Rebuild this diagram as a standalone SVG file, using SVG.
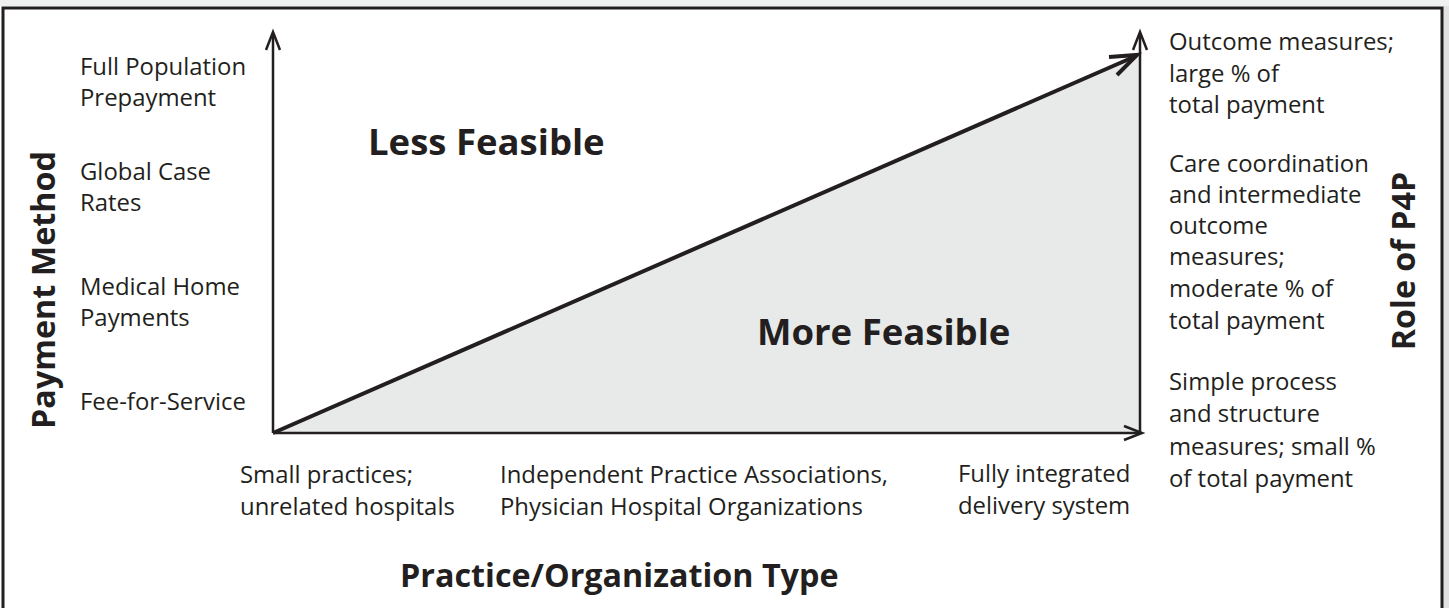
<svg xmlns="http://www.w3.org/2000/svg" width="1449" height="608" viewBox="0 0 1449 608">
<defs>
<style>
.t{font-family:"Open Sans","Noto Sans",sans-serif;font-size:23.9px;fill:#231f20}
.b{font-family:"Open Sans","Noto Sans",sans-serif;font-size:32.3px;font-weight:bold;fill:#231f20}
.f{font-family:"Open Sans","Noto Sans",sans-serif;font-size:36.5px;font-weight:bold;fill:#231f20}
.ax{stroke:#231f20;stroke-width:2.5;fill:none}
.ah{stroke:#231f20;stroke-width:2.5;fill:none;stroke-linecap:butt}
</style>
</defs>
<rect x="1443" y="0" width="6" height="608" fill="#e2e2e2"/>
<rect x="0" y="0" width="1449" height="6" fill="#f0f0f0"/>
<rect id="frame" x="3" y="8" width="1439" height="640" fill="#ffffff" stroke="#231f20" stroke-width="3"/>
<polygon id="feasible-region" points="273,433 1140,55 1140,433" fill="#e8e9e9"/>
<g id="connectors">
<path class="ax" d="M273,433 V34"/>
<path class="ah" d="M266,50 L273,32 L280,50"/>
<path class="ax" d="M273,433 H1140"/>
<path class="ah" d="M1124,426 L1142,433 L1124,440"/>
<path class="ax" d="M1140,433 V34"/>
<path class="ah" d="M1133,50 L1140,32 L1147,50"/>
<path d="M273,433 L1136,56" stroke="#231f20" stroke-width="4" fill="none"/>
<path d="M1109,57 L1137,55 L1117,75" stroke="#231f20" stroke-width="4" fill="none"/>
</g>
<g id="y-axis-labels">
<text class="t" x="80" y="75">Full Population</text>
<text class="t" x="80" y="106">Prepayment</text>
<text class="t" x="80" y="180">Global Case</text>
<text class="t" x="80" y="211">Rates</text>
<text class="t" x="80" y="295">Medical Home</text>
<text class="t" x="80" y="326">Payments</text>
<text class="t" x="80" y="410">Fee-for-Service</text>
</g>
<g id="y-axis-title"><text class="b" transform="translate(55,290) rotate(-90)" text-anchor="middle">Payment Method</text></g>
<g id="less-feasible"><text class="f" x="368" y="155">Less Feasible</text></g>
<g id="more-feasible"><text class="f" x="757" y="345">More Feasible</text></g>
<g id="x-axis-labels">
<text class="t" x="240" y="483">Small practices;</text>
<text class="t" x="240" y="515">unrelated hospitals</text>
<text class="t" x="500" y="483">Independent Practice Associations,</text>
<text class="t" x="500" y="515">Physician Hospital Organizations</text>
<text class="t" x="958" y="482">Fully integrated</text>
<text class="t" x="958" y="514">delivery system</text>
</g>
<g id="x-axis-title"><text class="b" x="400" y="587">Practice/Organization Type</text></g>
<g id="p4p-labels">
<text class="t" x="1169" y="50">Outcome measures;</text>
<text class="t" x="1169" y="82">large % of</text>
<text class="t" x="1169" y="113">total payment</text>
<text class="t" x="1169" y="172">Care coordination</text>
<text class="t" x="1169" y="203">and intermediate</text>
<text class="t" x="1169" y="234">outcome</text>
<text class="t" x="1169" y="265">measures;</text>
<text class="t" x="1169" y="297">moderate % of</text>
<text class="t" x="1169" y="329">total payment</text>
<text class="t" x="1169" y="390">Simple process</text>
<text class="t" x="1169" y="422">and structure</text>
<text class="t" x="1169" y="455">measures; small %</text>
<text class="t" x="1169" y="487">of total payment</text>
</g>
<g id="p4p-title"><text class="b" transform="translate(1415,261) rotate(-90)" text-anchor="middle">Role of P4P</text></g>
</svg>
